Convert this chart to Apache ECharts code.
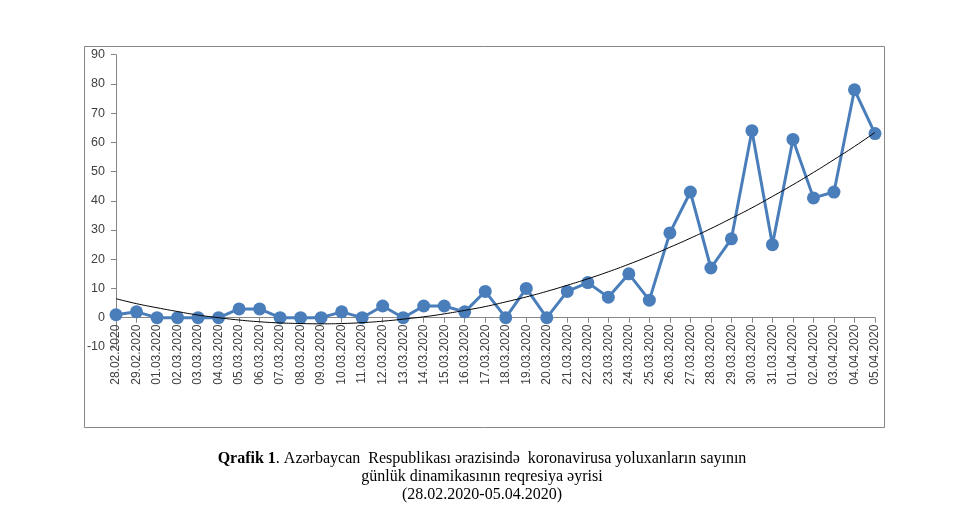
<!DOCTYPE html>
<html>
<head>
<meta charset="utf-8">
<script src="https://cdn.jsdelivr.net/npm/echarts@6/dist/echarts.min.js"></script>
<style>
html,body{margin:0;padding:0;background:#fff;}
#chart{width:979px;height:514px;}
</style>
</head>
<body>
<div id="chart"></div>
<script>
var categories = ["28.02.2020","29.02.2020","01.03.2020","02.03.2020","03.03.2020","04.03.2020","05.03.2020","06.03.2020","07.03.2020","08.03.2020","09.03.2020","10.03.2020","11.03.2020","12.03.2020","13.03.2020","14.03.2020","15.03.2020","16.03.2020","17.03.2020","18.03.2020","19.03.2020","20.03.2020","21.03.2020","22.03.2020","23.03.2020","24.03.2020","25.03.2020","26.03.2020","27.03.2020","28.03.2020","29.03.2020","30.03.2020","31.03.2020","01.04.2020","02.04.2020","03.04.2020","04.04.2020","05.04.2020"];
var dailyCases = [1,2,0,0,0,0,3,3,0,0,0,2,0,4,0,4,4,2,9,0,10,0,9,12,7,15,6,29,43,17,27,64,25,61,41,43,78,63];
var trendValues = [6.5,4.8,3.4,2.1,0.9,0.0,-0.8,-1.4,-1.8,-2.0,-2.1,-2.0,-1.7,-1.2,-0.5,0.3,1.3,2.5,3.8,5.4,7.1,9.0,11.1,13.3,15.7,18.3,21.1,24.1,27.2,30.5,34.0,37.6,41.5,45.5,49.7,54.1,58.6,63.4];
var yTicks = {min: -10, max: 90, interval: 10};
var captionLines = ["{b|Qrafik 1}. Azərbaycan  Respublikası ərazisində  koronavirusa yoluxanların sayının", "günlük dinamikasının reqresiya əyrisi", "(28.02.2020-05.04.2020)"];

var chart = echarts.init(document.getElementById('chart'), null, {renderer: 'canvas'});
var axisGray = '#868686';
var labelColor = '#404040';
var sansFont = '"Liberation Sans", Arial, sans-serif';
var serifFont = '"Liberation Serif", "DejaVu Serif", "Times New Roman", serif';

var gridTop = 54.7, gridBottomY = 346.9;
var pxPerUnit = (gridBottomY - gridTop) / (yTicks.max - yTicks.min);
var zeroOffset = -(0 - yTicks.min) * pxPerUnit;

chart.setOption({
  backgroundColor: '#ffffff',
  animation: false,
  title: {
    text: captionLines.join('\n'),
    left: 477,
    top: 445,
    textAlign: 'center',
    textStyle: {
      fontFamily: serifFont,
      fontSize: 16,
      fontWeight: 'normal',
      color: '#000',
      lineHeight: 18,
      rich: {
        b: {fontFamily: serifFont, fontSize: 16, fontWeight: 'bold', color: '#000', lineHeight: 18}
      }
    }
  },
  graphic: [{
    type: 'rect',
    shape: {x: 84.5, y: 46.5, width: 800, height: 381},
    style: {fill: 'none', stroke: axisGray, lineWidth: 1},
    silent: true
  }],
  grid: {left: 116, right: 104, top: gridTop, bottom: 514 - gridBottomY, containLabel: false},
  xAxis: {
    type: 'category',
    data: categories,
    boundaryGap: false,
    offset: zeroOffset,
    axisLine: {onZero: false, lineStyle: {color: axisGray, width: 1}},
    axisTick: {show: true, interval: 0, length: 5, lineStyle: {color: axisGray}},
    axisLabel: {
      interval: 0,
      rotate: 90,
      margin: 7,
      fontFamily: sansFont,
      fontSize: 12,
      color: labelColor
    },
    splitLine: {show: false}
  },
  yAxis: {
    type: 'value',
    min: yTicks.min,
    max: yTicks.max,
    interval: yTicks.interval,
    axisLine: {show: true, lineStyle: {color: axisGray, width: 1}},
    axisTick: {show: true, length: 5, lineStyle: {color: axisGray}},
    axisLabel: {
      margin: 11,
      fontFamily: sansFont,
      fontSize: 12.5,
      color: labelColor
    },
    splitLine: {show: false}
  },
  series: [{
    name: 'Günlük yoluxma',
    type: 'line',
    data: dailyCases,
    showAllSymbol: true,
    symbol: 'circle',
    symbolSize: 13,
    lineStyle: {color: '#4A7EBB', width: 3},
    itemStyle: {color: '#4A7EBB', borderWidth: 0},
    z: 2
  }, {
    name: 'Trend',
    type: 'line',
    data: trendValues,
    smooth: true,
    showSymbol: false,
    symbol: 'none',
    lineStyle: {color: '#000', width: 1},
    z: 3
  }]
});
</script>
</body>
</html>
